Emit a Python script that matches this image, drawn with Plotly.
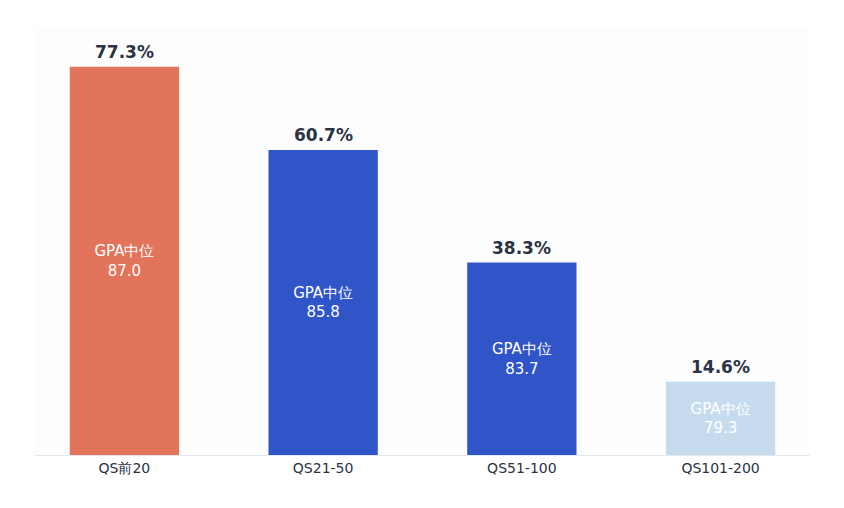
import plotly.graph_objects as go

categories = ["QS前20", "QS21-50", "QS51-100", "QS101-200"]
shares = [77.3, 60.7, 38.3, 14.6]
gpa_median = [87.0, 85.8, 83.7, 79.3]
bar_colors = ["#E1745B", "#3055C8", "#3055C8", "#C6DCEE"]

FONT = "DejaVu Sans"
DARK = "#2A3344"

fig = go.Figure()

# bars with the GPA median inside
fig.add_trace(
    go.Bar(
        x=categories,
        y=shares,
        width=0.55,
        marker=dict(color=bar_colors, line_width=0),
        text=[f"GPA中位<br>{g:.1f}" for g in gpa_median],
        textposition="inside",
        insidetextanchor="middle",
        textfont=dict(family=FONT, size=15, color="white"),
        hoverinfo="skip",
        showlegend=False,
    )
)

# percentage labels above bars
for cat, v in zip(categories, shares):
    fig.add_annotation(
        x=cat,
        y=v,
        text=f"<b>{v:.1f}%</b>",
        showarrow=False,
        yanchor="bottom",
        yshift=3,
        font=dict(family=FONT, size=17, color=DARK),
    )

fig.update_layout(
    width=844,
    height=508,
    margin=dict(l=27, r=42, t=20, b=61),
    paper_bgcolor="white",
    plot_bgcolor="#FDFDFE",
    font=dict(family=FONT, color=DARK),
    xaxis=dict(
        range=[-0.45, 3.45],
        showgrid=False,
        showline=True,
        linecolor="#E2E8F0",
        linewidth=1,
        ticks="",
        tickfont=dict(family=FONT, size=14, color=DARK),
        fixedrange=True,
    ),
    yaxis=dict(
        range=[0, 85],
        visible=False,
        showgrid=False,
        zeroline=False,
        fixedrange=True,
    ),
    uniformtext=dict(mode=False),
)

fig.write_html("out.html")
